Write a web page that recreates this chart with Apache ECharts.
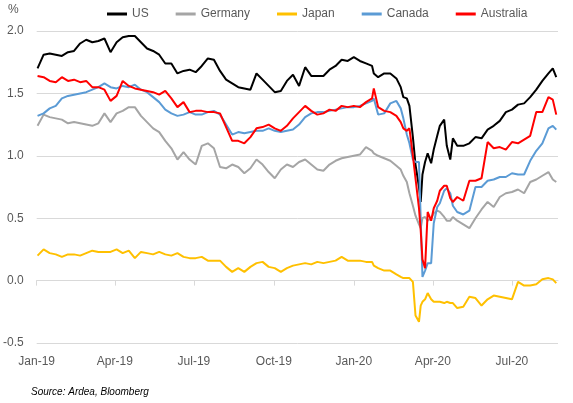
<!DOCTYPE html>
<html><head><meta charset="utf-8">
<script src="https://cdn.jsdelivr.net/npm/echarts@6/dist/echarts.min.js"></script>
<style>html,body{margin:0;padding:0;background:#fff}#c{width:573px;height:403px}</style>
</head><body><div id="c"></div>
<script>
const dates = [
'2019-01-02','2019-01-09','2019-01-16','2019-01-23','2019-01-30','2019-02-06','2019-02-13','2019-02-20','2019-02-27','2019-03-06',
'2019-03-13','2019-03-20','2019-03-27','2019-04-03','2019-04-10','2019-04-17','2019-04-24','2019-05-01','2019-05-08','2019-05-15',
'2019-05-22','2019-05-29','2019-06-05','2019-06-12','2019-06-19','2019-06-26','2019-07-03','2019-07-10','2019-07-17','2019-07-24',
'2019-07-31','2019-08-07','2019-08-14','2019-08-21','2019-08-28','2019-09-04','2019-09-11','2019-09-18','2019-09-25','2019-10-02',
'2019-10-09','2019-10-16','2019-10-23','2019-10-30','2019-11-06','2019-11-13','2019-11-20','2019-11-27','2019-12-04','2019-12-11',
'2019-12-18','2019-12-25','2020-01-01','2020-01-08','2020-01-15','2020-01-22','2020-01-24','2020-01-29','2020-02-05','2020-02-12',
'2020-02-19','2020-02-24','2020-02-27','2020-03-02','2020-03-05','2020-03-09','2020-03-12','2020-03-16','2020-03-18','2020-03-20',
'2020-03-23','2020-03-26','2020-03-30','2020-04-02','2020-04-06','2020-04-09','2020-04-14','2020-04-17','2020-04-21','2020-04-24',
'2020-04-29','2020-05-06','2020-05-13','2020-05-20','2020-05-27','2020-06-03','2020-06-10','2020-06-17','2020-06-24','2020-07-01',
'2020-07-08','2020-07-15','2020-07-22','2020-07-29','2020-08-05','2020-08-12','2020-08-17','2020-08-21'];

const us = [
1.70,1.81,1.82,1.81,1.80,1.83,1.84,1.90,1.93,1.91,
1.92,1.94,1.83,1.91,1.95,1.96,1.96,1.91,1.86,1.84,
1.81,1.74,1.74,1.66,1.68,1.69,1.67,1.72,1.78,1.77,
1.68,1.61,1.58,1.55,1.54,1.53,1.66,1.61,1.56,1.51,
1.52,1.60,1.65,1.56,1.71,1.64,1.64,1.64,1.69,1.72,
1.77,1.76,1.79,1.76,1.74,1.72,1.66,1.63,1.66,1.66,
1.62,1.55,1.47,1.46,1.40,1.15,0.93,0.75,0.63,0.85,
0.95,1.02,0.94,1.05,1.16,1.24,1.29,1.08,0.97,1.14,
1.08,1.08,1.10,1.15,1.14,1.21,1.24,1.28,1.35,1.37,
1.41,1.42,1.47,1.53,1.60,1.66,1.70,1.63];

const germany = [
1.24,1.33,1.31,1.30,1.29,1.26,1.27,1.26,1.25,1.24,
1.26,1.34,1.27,1.34,1.36,1.39,1.39,1.32,1.27,1.22,
1.19,1.12,1.06,0.97,1.03,0.97,0.93,1.08,1.10,1.06,
0.91,0.90,0.93,0.91,0.86,0.90,0.97,0.93,0.87,0.82,
0.89,0.93,0.91,0.95,0.97,0.93,0.89,0.88,0.93,0.96,
0.98,0.99,1.00,1.01,1.07,1.04,1.02,1.00,0.98,0.96,
0.92,0.89,0.84,0.79,0.70,0.60,0.52,0.45,0.42,0.50,
0.51,0.48,0.50,0.54,0.56,0.55,0.51,0.48,0.48,0.51,
0.48,0.45,0.42,0.50,0.57,0.63,0.59,0.67,0.70,0.71,
0.73,0.70,0.79,0.81,0.84,0.87,0.81,0.79];

const japan = [
0.20,0.25,0.22,0.21,0.19,0.21,0.21,0.20,0.22,0.24,
0.23,0.23,0.23,0.25,0.22,0.24,0.18,0.23,0.22,0.21,
0.23,0.21,0.20,0.22,0.19,0.18,0.18,0.19,0.16,0.16,
0.16,0.11,0.07,0.10,0.07,0.11,0.14,0.15,0.11,0.10,
0.07,0.10,0.12,0.13,0.14,0.13,0.15,0.14,0.15,0.16,
0.19,0.16,0.16,0.16,0.15,0.15,0.12,0.10,0.08,0.08,
0.05,0.03,0.02,0.02,0.02,-0.01,-0.28,-0.33,-0.20,-0.17,
-0.15,-0.10,-0.15,-0.17,-0.17,-0.17,-0.18,-0.17,-0.18,-0.18,
-0.22,-0.21,-0.13,-0.14,-0.20,-0.15,-0.12,-0.13,-0.14,-0.15,
-0.01,-0.04,-0.04,-0.03,0.01,0.02,0.01,-0.02];

const canada = [
1.32,1.34,1.38,1.40,1.46,1.48,1.49,1.50,1.51,1.53,
1.55,1.58,1.55,1.54,1.56,1.55,1.57,1.53,1.51,1.47,
1.43,1.37,1.34,1.32,1.33,1.35,1.33,1.33,1.35,1.36,
1.33,1.25,1.17,1.19,1.18,1.19,1.20,1.20,1.22,1.20,
1.19,1.20,1.21,1.25,1.31,1.34,1.35,1.35,1.36,1.37,
1.38,1.39,1.39,1.40,1.42,1.44,1.46,1.33,1.34,1.42,
1.44,1.38,1.30,1.17,1.10,0.97,0.95,0.95,0.95,0.03,
0.08,0.14,0.14,0.46,0.59,0.62,0.72,0.74,0.70,0.60,
0.55,0.53,0.56,0.75,0.75,0.80,0.81,0.83,0.83,0.86,
0.85,0.85,0.96,1.04,1.10,1.22,1.24,1.21];

const australia = [
1.64,1.63,1.60,1.59,1.63,1.60,1.61,1.59,1.60,1.55,
1.55,1.53,1.44,1.48,1.60,1.56,1.54,1.53,1.52,1.51,
1.49,1.52,1.46,1.39,1.43,1.35,1.36,1.36,1.35,1.35,
1.34,1.23,1.12,1.12,1.10,1.15,1.22,1.23,1.25,1.22,
1.20,1.24,1.30,1.35,1.40,1.36,1.33,1.34,1.37,1.36,
1.40,1.39,1.40,1.39,1.43,1.46,1.54,1.39,1.36,1.35,
1.32,1.27,1.22,1.20,1.22,1.00,0.82,0.58,0.40,0.17,
0.10,0.55,0.48,0.58,0.64,0.72,0.76,0.76,0.66,0.63,
0.67,0.64,0.80,0.80,0.82,1.11,1.06,1.07,1.05,1.11,
1.10,1.13,1.16,1.35,1.35,1.47,1.45,1.33];

const seriesNames = ['US','Germany','Japan','Canada','Australia'];
const seriesValues = [us, germany, japan, canada, australia];
const seriesColors = ['#000000','#A5A5A5','#FFC000','#5B9BD5','#FF0000'];
const tickDates = ['2019-01-01','2019-04-01','2019-07-01','2019-10-01','2020-01-01','2020-04-01','2020-07-01'];
const tickLabels = ['Jan-19','Apr-19','Jul-19','Oct-19','Jan-20','Apr-20','Jul-20'];
const axisStart = '2019-01-01', axisEnd = '2020-08-23';

function ts(s){const p=s.split('-');return Date.UTC(+p[0],+p[1]-1,+p[2]);}
const tickTs = tickDates.map(ts);
const font = '"Liberation Sans", Arial, sans-serif';
const grey = '#595959', gridCol = '#D9D9D9';

const chart = echarts.init(document.getElementById('c'), null, {renderer:'canvas'});
chart.setOption({
  animation:false,
  backgroundColor:'#ffffff',
  textStyle:{fontFamily:font},
  title:[
    {text:'%', left:8, top:4, padding:0, textStyle:{fontSize:12, fontWeight:'normal', color:grey, fontFamily:font}},
    {text:'Source: Ardea, Bloomberg', left:31, top:387, padding:0, textStyle:{fontSize:10, fontStyle:'italic', fontWeight:'normal', color:'#000', fontFamily:font}}
  ],
  legend:{left:107, top:8, padding:0, icon:'rect', itemWidth:20, itemHeight:3, itemGap:27,
    data:seriesNames, textStyle:{fontSize:12, color:grey, fontFamily:font}},
  grid:{left:34, right:15, top:31, bottom:60},
  xAxis:[
    {type:'value', min:ts(axisStart), max:ts(axisEnd),
     axisLine:{onZero:true, lineStyle:{color:gridCol, width:1}},
     axisTick:{show:true, length:5, customValues:tickTs, lineStyle:{color:gridCol}},
     axisLabel:{show:false}, splitLine:{show:false}},
    {type:'value', min:ts(axisStart), max:ts(axisEnd), position:'bottom',
     axisLine:{show:false, onZero:false}, axisTick:{show:false}, splitLine:{show:false},
     axisLabel:{customValues:tickTs, color:grey, fontSize:12, margin:13, fontFamily:font,
       formatter:function(v){const i=tickTs.indexOf(+v); return i>=0?tickLabels[i]:'';}}}
  ],
  yAxis:{type:'value', min:-0.5, max:2.0, interval:0.5,
    axisLine:{show:false}, axisTick:{show:false},
    axisLabel:{formatter:function(v){return v.toFixed(1);}, color:grey, fontSize:12, margin:13, fontFamily:font},
    splitLine:{lineStyle:{color:gridCol, width:1}}},
  series: seriesNames.map(function(n,k){
    return {name:n, type:'line', xAxisIndex:0, symbol:'none', showSymbol:false,
      color:seriesColors[k], lineStyle:{width:2, color:seriesColors[k]},
      data: dates.map(function(d,i){return [ts(d), seriesValues[k][i]];})};
  })
});
</script></body></html>
